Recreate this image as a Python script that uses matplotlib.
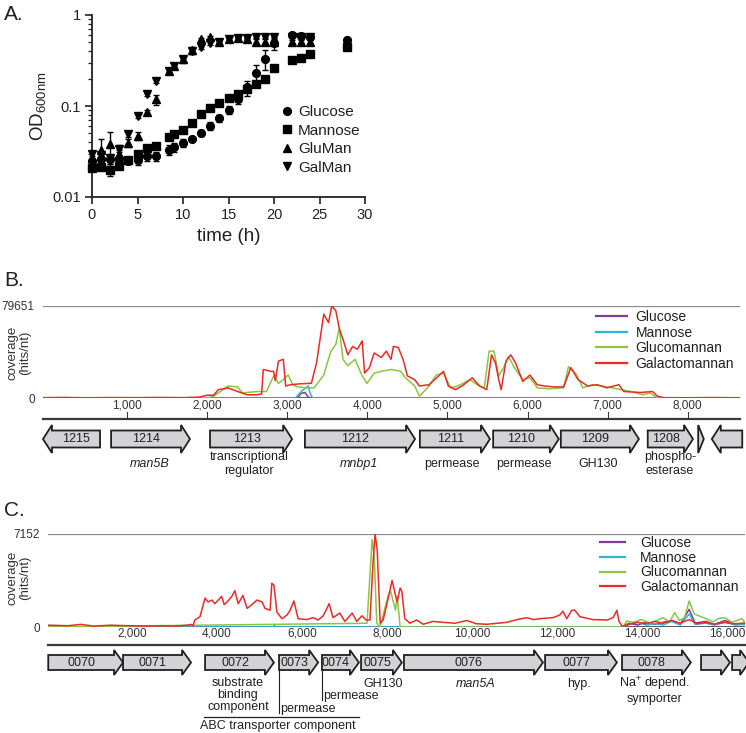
import matplotlib
matplotlib.use('Agg')
import matplotlib.pyplot as plt
from matplotlib.patches import Polygon
from matplotlib.lines import Line2D
import matplotlib.ticker as mticker

plt.rcParams['font.family'] = ['Liberation Sans', 'DejaVu Sans']

W, H = 746, 733
TXT = '#231f20'

# ---------------- Panel A data ----------------
time_h = [0, 1, 2, 3, 4, 5, 6, 7, 8.5, 9, 10, 11, 12, 13, 14, 15, 16, 17, 18, 19, 20, 22, 23, 24, 28]
glucose_od = [0.025, 0.026, 0.026, 0.026, 0.025, 0.0255, 0.028, 0.028, 0.033, 0.035, 0.039, 0.043, 0.051,
              0.060, 0.073, 0.090, 0.12, 0.16, 0.23, 0.33, 0.49, 0.60, 0.59, 0.58, 0.53]
glucose_err = [0.002, 0.002, 0.003, 0.002, 0.002, 0.003, 0.003, 0.003, 0.004, 0.004, 0.004, 0.002, 0.004,
               0.006, 0.007, 0.009, 0.015, 0.03, 0.05, 0.08, 0.08, 0.02, 0.02, 0.02, 0.02]
mannose_od = [0.021, 0.0216, 0.020, 0.022, 0.0255, 0.0297, 0.0345, 0.0366, 0.046, 0.049, 0.055, 0.065, 0.081,
              0.094, 0.109, 0.123, 0.137, 0.155, 0.175, 0.20, 0.26, 0.32, 0.34, 0.37, 0.45]
mannose_err = [0.001, 0.001, 0.003, 0.001, 0.001, 0.002, 0.003, 0.002, 0.003, 0.002, 0.002, 0.002, 0.003,
               0.003, 0.003, 0.004, 0.005, 0.005, 0.005, 0.005, 0.01, 0.01, 0.01, 0.01, 0.01]
gluman_od = [0.023, 0.033, 0.038, 0.030, 0.039, 0.047, 0.085, 0.118, 0.242, 0.277, 0.325, 0.41, 0.54,
             0.57, 0.51, 0.54, 0.56, 0.54, 0.51, 0.51, 0.51, 0.51, 0.51, 0.51]
gluman_err = [0.002, 0.01, 0.014, 0.003, 0.004, 0.005, 0.005, 0.015, 0.02, 0.02, 0.03, 0.04, 0.02,
              0.02, 0.02, 0.02, 0.02, 0.02, 0.03, 0.03, 0.03, 0.02, 0.02, 0.02]
galman_od = [0.030, 0.029, 0.027, 0.034, 0.049, 0.078, 0.134, 0.19, 0.242, 0.277, 0.325, 0.40, 0.44,
             0.49, 0.51, 0.54, 0.56, 0.56, 0.58, 0.58, 0.58, 0.58, 0.58, 0.58]
galman_err = [0.002, 0.002, 0.002, 0.003, 0.003, 0.004, 0.005, 0.01, 0.01, 0.01, 0.02, 0.03, 0.02,
              0.02, 0.02, 0.02, 0.02, 0.02, 0.02, 0.02, 0.02, 0.02, 0.02, 0.02]
series_names_a = ['Glucose', 'Mannose', 'GluMan', 'GalMan']

# ---------------- Panel B data ----------------
b_max = 79651
b_gal_pos = [-50, 200, 500, 800, 1100, 1400, 1700, 1900, 2000, 2080, 2140, 2260, 2380, 2500, 2620, 2680, 2700,
             2800, 2830, 2850, 2890, 2950, 2980, 3040, 3160, 3300, 3365, 3455, 3515, 3555, 3605, 3650, 3695,
             3755, 3815, 3875, 3935, 3965, 4025, 4085, 4175, 4235, 4295, 4325, 4385, 4445, 4500, 4590, 4650,
             4770, 4890, 4950, 5010, 5100, 5190, 5310, 5400, 5490, 5550, 5600, 5640, 5670, 5730, 5790, 5850,
             5940, 6030, 6120, 6210, 6330, 6450, 6540, 6630, 6750, 6870, 6990, 7140, 7200, 7410, 7560, 7620,
             7700, 8000, 8300, 8652]
b_gal_val = [300, 500, 200, 400, 300, 500, 300, 800, 2400, 2400, 7200, 8800, 5600, 2800, 2800, 3500, 24700,
             23000, 23100, 15000, 31900, 33500, 10400, 11500, 12300, 12700, 30300, 72500, 65300, 79651, 75700,
             59700, 51000, 37400, 44600, 42200, 49400, 21500, 26300, 39000, 35000, 40600, 33500, 44600, 43800,
             33500, 19100, 15900, 10400, 11500, 19100, 23100, 10400, 7200, 10800, 17500, 10400, 7200, 37400,
             30000, 15900, 7200, 31900, 37400, 30300, 14300, 19900, 11500, 10400, 9600, 9600, 26300, 15900,
             10400, 11500, 8800, 11500, 5600, 4800, 5600, 1600, 300, 200, 400, 200]
b_glm_pos = [-50, 2000, 2080, 2200, 2260, 2380, 2440, 2620, 2740, 2830, 2890, 2950, 3010, 3070, 3125, 3245,
             3335, 3455, 3545, 3605, 3650, 3695, 3755, 3845, 3935, 3995, 4085, 4175, 4295, 4415, 4475, 4590,
             4650, 4770, 4860, 4950, 5040, 5130, 5280, 5370, 5460, 5520, 5580, 5640, 5700, 5760, 5850, 5940,
             6030, 6120, 6270, 6450, 6510, 6600, 6690, 6810, 6930, 7110, 7290, 7440, 7530, 7620, 8652]
b_glm_val = [0, 0, 1600, 7200, 10400, 9600, 4400, 5600, 5600, 19100, 12700, 15900, 19900, 11500, 9600, 8800,
             8800, 19900, 40600, 46200, 60500, 33500, 27900, 33500, 19100, 12700, 21500, 23100, 24700, 23100,
             17500, 10400, 1600, 10400, 19900, 21500, 8800, 10400, 15900, 11500, 8800, 40600, 40600, 19100,
             26300, 35800, 24700, 15900, 17500, 8800, 8000, 8800, 27100, 21500, 8800, 11500, 10400, 8000, 5600,
             2800, 4400, 0, 0]
b_man_pos = [-50, 3100, 3140, 3180, 3260, 3290, 3320, 8652]
b_man_val = [0, 0, 3000, 6000, 10400, 3000, 0, 0]
b_glc_pos = [-50, 3130, 3170, 3220, 3260, 3290, 8652]
b_glc_val = [0, 0, 4000, 4800, 1000, 0, 0]

b_ruler_ticks = [1000, 2000, 3000, 4000, 5000, 6000, 7000, 8000]
b_gene_names = ['1215', '1214', '1213', '1212', '1211', '1210', '1209', '1208', '', '']
b_gene_start = [-50, 800, 2035, 3220, 4655, 5570, 6415, 7500, 8130, 8300]
b_gene_end = [662, 1785, 3060, 4595, 5530, 6390, 7390, 8065, 8200, 8680]
b_gene_strand = [-1, 1, 1, 1, 1, 1, 1, 1, 1, -1]
b_func_labels = ['man5B', 'transcriptional\nregulator', 'mnbp1', 'permease', 'permease', 'GH130',
                 'phospho-\nesterase']
b_func_pos = [1286, 2520, 3895, 5056, 5955, 6880, 7778]
b_func_italic = [True, False, True, False, False, False, False]

# ---------------- Panel C data ----------------
c_max = 7152
c_gal_pos = [24, 500, 800, 1100, 1500, 1900, 2300, 2700, 3000, 3300, 3400, 3435, 3480, 3600, 3720, 3790, 3880,
             3950, 4030, 4110, 4170, 4240, 4350, 4420, 4500, 4610, 4710, 4820, 4940, 5060, 5130, 5250, 5290,
             5340, 5410, 5530, 5650, 5720, 5810, 5910, 6110, 6260, 6380, 6500, 6640, 6730, 6890, 7010, 7180,
             7290, 7410, 7510, 7600, 7670, 7720, 7770, 7840, 7910, 8000, 8120, 8190, 8240, 8310, 8350, 8420,
             8540, 8700, 8850, 9080, 9320, 9600, 9880, 10100, 10350, 10600, 10820, 11060, 11290, 11450, 11600,
             11910, 12070, 12140, 12230, 12350, 12420, 12540, 12850, 13180, 13320, 13410, 13460, 13530, 13700,
             13900, 14100, 14300, 14500, 14700, 14900, 15110, 15300, 15500, 15700, 15950, 16150, 16424]
c_gal_val = [140, 100, 200, 70, 140, 100, 70, 100, 70, 140, 200, 70, 540, 790, 2220, 1930, 2070, 1790, 2070,
             2360, 1720, 1930, 2360, 2790, 1790, 2430, 1430, 1720, 2070, 1930, 1430, 1290, 3360, 3220, 1140,
             640, 930, 1290, 2000, 640, 570, 720, 540, 860, 1790, 720, 1070, 430, 1070, 430, 860, 540, 540, 4860,
             7152, 5940, 290, 540, 1790, 3580, 2570, 1930, 3000, 2720, 640, 290, 540, 210, 430, 360, 290, 500,
             250, 210, 290, 360, 570, 720, 570, 640, 720, 930, 1220, 640, 1290, 1290, 790, 570, 540, 720, 1290,
             430, 70, 210, 360, 250, 430, 290, 500, 290, 570, 250, 360, 210, 360, 250, 290]
c_glm_pos = [24, 7530, 7650, 7700, 7760, 7840, 7950, 8030, 8090, 8150, 8200, 8240, 8310, 13560, 13640, 13800,
             13980, 14200, 14490, 14650, 14770, 14880, 15000, 15110, 15230, 15450, 15670, 15800, 15950, 16120,
             16350, 16424]
c_glm_val = [0, 290, 6720, 5440, 290, 0, 1430, 2430, 2720, 1930, 1290, 2360, 0, 0, 460, 360, 570, 290, 720,
             400, 1110, 500, 700, 2000, 1000, 720, 400, 650, 720, 360, 640, 360]
c_glc_pos = [24, 13500, 13700, 13900, 14100, 14300, 14500, 14700, 14900, 15110, 15250, 15500, 15700, 15950,
             16200, 16424]
c_glc_val = [0, 0, 290, 150, 400, 200, 360, 500, 200, 1360, 300, 430, 200, 500, 200, 300]
c_man_pos = [24, 3900, 4000, 4100, 5300, 5350, 5400, 13500, 13700, 13900, 14100, 14300, 14500, 14700, 14900,
             15110, 15250, 15500, 15700, 15950, 16200, 16424]
c_man_val = [0, 0, 70, 0, 0, 100, 0, 0, 200, 360, 150, 250, 150, 430, 150, 1000, 200, 290, 150, 360, 150, 200]

c_ruler_ticks = [2000, 4000, 6000, 8000, 10000, 12000, 14000, 16000]
c_gene_names = ['0070', '0071', '0072', '0073', '0074', '0075', '0076', '0077', '0078', '', '']
c_gene_start = [30, 1790, 3720, 5460, 6470, 7390, 8400, 11720, 13530, 15390, 16120]
c_gene_end = [1790, 3390, 5340, 6380, 7340, 8350, 11670, 13410, 15150, 16070, 16520]

cov_names = ['Glucose', 'Mannose', 'Glucomannan', 'Galactomannan']
cov_colors = ['#7d3c98', '#2fb4e0', '#8cc63f', '#ee2a24']

fig = plt.figure(figsize=(W / 100, H / 100), dpi=100)


def px_axes(l, t, r, b):
    return fig.add_axes([l / W, 1 - b / H, (r - l) / W, (b - t) / H])


def fy(y):
    return 1 - y / H

# ================= Panel A =================
axA = px_axes(92, 15, 365, 197)
axA.set_yscale('log')
axA.set_ylim(0.01, 1)
axA.set_xlim(0, 30)
marker_specs = [('o', 5.6), ('s', 5.2), ('^', 6), ('v', 6)]
data_a = [(time_h, glucose_od, glucose_err), (time_h, mannose_od, mannose_err),
          (time_h[:-1], gluman_od, gluman_err), (time_h[:-1], galman_od, galman_err)]
handles_a = []
for (tt, vv, ee), (mk, ms), nm in zip(data_a, marker_specs, series_names_a):
    axA.errorbar(tt, vv, yerr=ee, fmt=mk, ms=ms, color='black', ecolor='black', elinewidth=1,
                 capsize=2.5, capthick=1, clip_on=False, zorder=3)
    handles_a.append(Line2D([], [], marker=mk, ms=ms, color='black', ls='none', label=nm))
for s in ['top', 'right']:
    axA.spines[s].set_visible(False)
for s in ['left', 'bottom']:
    axA.spines[s].set_linewidth(1.3)
    axA.spines[s].set_color('#222222')
axA.set_xticks([0, 5, 10, 15, 20, 25, 30])
axA.set_yticks([0.01, 0.1, 1])
axA.yaxis.set_major_formatter(mticker.FuncFormatter(lambda v, p: {0.01: '0.01', 0.1: '0.1', 1: '1'}.get(round(v, 3), '')))
axA.yaxis.set_minor_locator(mticker.LogLocator(base=10, subs=range(2, 10)))
axA.yaxis.set_minor_formatter(mticker.NullFormatter())
axA.tick_params(axis='both', which='major', labelsize=10.5, length=5, width=1.2, colors='#222222', pad=3)
axA.tick_params(axis='y', which='minor', length=3, width=0.9, colors='#222222')
axA.set_xlabel('time (h)', fontsize=13.5, color=TXT, labelpad=4)
axA.set_ylabel('OD$_{\\mathregular{600nm}}$', fontsize=13.5, color=TXT, labelpad=2)
legA = axA.legend(handles=handles_a, loc='upper left', bbox_to_anchor=(281 / W, fy(105)),
                  bbox_transform=fig.transFigure, frameon=False, fontsize=11, handlelength=0.8,
                  handletextpad=0.3, labelspacing=0.3, borderpad=0, borderaxespad=0)
for t in legA.get_texts():
    t.set_color(TXT)

fig.text(4 / W, fy(14), 'A.', fontsize=15, color=TXT, va='center', ha='left')
fig.text(4 / W, fy(281), 'B.', fontsize=15, color=TXT, va='center', ha='left')
fig.text(4 / W, fy(510), 'C.', fontsize=15, color=TXT, va='center', ha='left')


def coverage_panel(l, t, r, b, xlim, ymax, curves, leg_anchor, leg_hl, leg_pad, leg_ls):
    ax = px_axes(l, t, r, b)
    ax.set_xlim(*xlim)
    ax.set_ylim(0, ymax)
    for s in ax.spines.values():
        s.set_visible(False)
    ax.set_xticks([])
    ax.set_yticks([0, ymax])
    ax.set_yticklabels(['0', str(ymax)])
    ax.tick_params(axis='y', length=0, pad=6, labelsize=8.5, labelcolor='#333333')
    ax.axhline(ymax, color='#8a8a8a', lw=0.9, zorder=1)
    ax.axhline(0, color='#22263a', lw=1.8, zorder=1.5)
    hs = []
    for (px, pv), nm, col in zip(curves, cov_names, cov_colors):
        ax.plot(px, pv, color=col, lw=1.1, label=nm, zorder=2)
        hs.append(Line2D([], [], color=col, lw=1.6, label=nm))
    lg = ax.legend(handles=hs, loc='upper left', bbox_to_anchor=leg_anchor, bbox_transform=fig.transFigure,
                   frameon=False, fontsize=10, handlelength=leg_hl, handletextpad=leg_pad,
                   labelspacing=leg_ls, borderpad=0, borderaxespad=0)
    for tx in lg.get_texts():
        tx.set_color(TXT)
    return ax


def gene_poly(start, end, strand, body, head, head_len):
    bt, bb = body
    ht, hb = head
    mid = (ht + hb) / 2
    if strand > 0:
        base = max(start, end - head_len)
        pts = [(start, bt), (base, bt), (base, ht), (end, mid), (base, hb), (base, bb), (start, bb)]
        if base == start:
            pts = [(start, ht), (end, mid), (start, hb)]
    else:
        base = min(end, start + head_len)
        pts = [(end, bt), (base, bt), (base, ht), (start, mid), (base, hb), (base, bb), (end, bb)]
    return Polygon(pts, closed=True, facecolor='#d1d3d4', edgecolor='#231f20', lw=1.3,
                   joinstyle='miter', clip_on=False)


# ================= Panel B =================
b_xlim = (-50, 8652)
axB = coverage_panel(43, 306, 740, 398, b_xlim, b_max,
                     [(b_glc_pos, b_glc_val), (b_man_pos, b_man_val), (b_glm_pos, b_glm_val),
                      (b_gal_pos, b_gal_val)],
                     (596 / W, fy(310)), 2.2, 0.65, 0.12)
trB = px_axes(43, 398, 740, 480)
trB.set_xlim(*b_xlim)
trB.set_ylim(480, 398)
trB.axis('off')
trB.plot(b_xlim, [419, 419], color='#3a3a3a', lw=1.6, clip_on=False)
for tk in b_ruler_ticks:
    trB.plot([tk, tk], [412, 419], color='#3a3a3a', lw=0.8)
    trB.text(tk, 405, f'{tk:,}', ha='center', va='center', fontsize=8.5, color='#333333')
b_head = 9 * (b_xlim[1] - b_xlim[0]) / (740 - 43)
for nm, s, e, st in zip(b_gene_names, b_gene_start, b_gene_end, b_gene_strand):
    trB.add_patch(gene_poly(s, e, st, (430.5, 447.5), (425, 453), b_head))
    if nm:
        cx = (s + e - b_head) / 2 if st > 0 else (s + b_head + e) / 2
        trB.text(cx, 439, nm, ha='center', va='center', fontsize=9, color=TXT)
for lab, x, it in zip(b_func_labels, b_func_pos, b_func_italic):
    trB.text(x, 464, lab, ha='center', va='center', fontsize=9, color=TXT,
             style='italic' if it else 'normal', linespacing=1.15, clip_on=False)

# ================= Panel C =================
c_xlim = (24, 16424)
axC = coverage_panel(48, 534, 745, 627, c_xlim, c_max,
                     [(c_glc_pos, c_glc_val), (c_man_pos, c_man_val), (c_glm_pos, c_glm_val),
                      (c_gal_pos, c_gal_val)],
                     (600 / W, fy(536)), 1.8, 1.1, 0.05)
trC = px_axes(48, 627, 745, 733)
trC.set_xlim(*c_xlim)
trC.set_ylim(733, 627)
trC.axis('off')
trC.plot(c_xlim, [645, 645], color='#3a3a3a', lw=1.6, clip_on=False)
for tk in c_ruler_ticks:
    trC.text(tk, 634, f'{tk:,}', ha='center', va='center', fontsize=8.5, color='#333333')
c_head = 9 * (c_xlim[1] - c_xlim[0]) / (745 - 48)
for nm, s, e in zip(c_gene_names, c_gene_start, c_gene_end):
    trC.add_patch(gene_poly(s, e, 1, (655, 670), (650, 675), c_head))
    if nm:
        trC.text((s + e - c_head) / 2, 662.5, nm, ha='center', va='center', fontsize=9, color=TXT)

lbl = dict(ha='center', va='center', fontsize=9, color=TXT, clip_on=False)
trC.text(4494, 695, 'substrate\nbinding\ncomponent', linespacing=0.95, **lbl)
trC.plot([c_gene_start[3], c_gene_start[3]], [670, 713], color=TXT, lw=0.8, clip_on=False)
trC.text(c_gene_start[3] + 30, 709, 'permease', ha='left', va='center', fontsize=9, color=TXT)
trC.plot([c_gene_start[4], c_gene_start[4]], [670, 700], color=TXT, lw=0.8, clip_on=False)
trC.text(c_gene_start[4] + 30, 696, 'permease', ha='left', va='center', fontsize=9, color=TXT)
trC.plot([c_gene_start[2] - 20, c_gene_end[4]], [717, 717], color=TXT, lw=0.9, clip_on=False)
trC.text((c_gene_start[2] + c_gene_end[4]) / 2 - 100, 726, 'ABC transporter component', **lbl)
trC.text(7905, 684, 'GH130', **lbl)
trC.text(10094, 684, 'man5A', style='italic', **lbl)
trC.text(12518, 684, 'hyp.', **lbl)
trC.text(14305, 684, 'Na$^{\\mathregular{+}}$ depend.', **lbl)
trC.text(14305, 699, 'symporter', **lbl)

# coverage y labels
fig.text(19 / W, fy(353), 'coverage\n(hits/nt)', rotation=90, ha='center', va='center', fontsize=9.5,
         color='#333333', linespacing=1.1)
fig.text(19 / W, fy(578), 'coverage\n(hits/nt)', rotation=90, ha='center', va='center', fontsize=9.5,
         color='#333333', linespacing=1.1)

fig.savefig('out.png', dpi=100)
